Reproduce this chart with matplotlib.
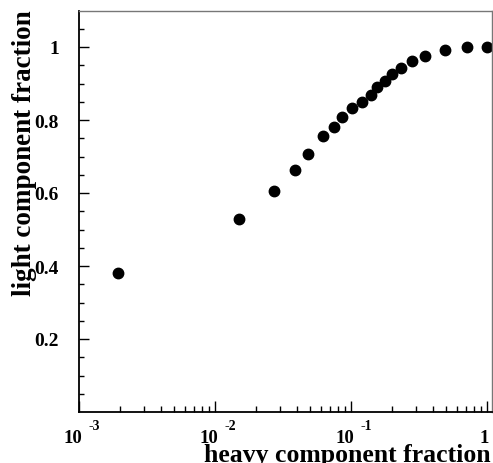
import matplotlib
matplotlib.use("Agg")
import matplotlib.pyplot as plt
from matplotlib.ticker import FixedLocator, NullFormatter, LogLocator

plt.rcParams['font.family'] = ['Liberation Serif', 'DejaVu Serif']
plt.rcParams['font.weight'] = 'bold'

# heavy component fraction (x) vs light component fraction (y)
heavy = [0.00192, 0.0149, 0.0269, 0.0387, 0.0478, 0.0622, 0.0754, 0.0855,
         0.102, 0.120, 0.139, 0.155, 0.178, 0.200, 0.233, 0.281, 0.352,
         0.493, 0.705, 1.0]
light = [0.381, 0.528, 0.605, 0.663, 0.708, 0.756, 0.781, 0.808,
         0.833, 0.850, 0.868, 0.891, 0.908, 0.926, 0.943, 0.961, 0.976,
         0.992, 1.0, 1.0]

xdecades = [1e-3, 1e-2, 1e-1, 1.0]
xexps = ['-3', '-2', '-1', '']
yticks = [0.2, 0.4, 0.6, 0.8, 1.0]
ylabels = ['0.2', '0.4', '0.6', '0.8', '1']

fig = plt.figure(figsize=(4.93, 4.64), dpi=100)
ax = fig.add_axes([79 / 493, 51 / 464, 413 / 493, 401.5 / 464])

ax.plot(heavy, light, 'o', color='black', markersize=7.5, clip_on=False)

ax.set_xscale('log')
ax.set_xlim(1e-3, 1.085)
ax.set_ylim(0.0, 1.1)

ax.xaxis.set_major_locator(FixedLocator(xdecades))
ax.xaxis.set_minor_locator(LogLocator(base=10, subs=range(2, 10)))
ax.xaxis.set_major_formatter(NullFormatter())
ax.xaxis.set_minor_formatter(NullFormatter())

ax.set_yticks(yticks)
ax.set_yticklabels(ylabels)
ax.yaxis.set_minor_locator(FixedLocator([i * 0.05 for i in range(1, 22)]))

ax.tick_params(which='both', direction='in', top=False, right=False)
ax.tick_params(axis='y', which='major', length=7, width=1, pad=14.5, labelsize=14)
ax.tick_params(axis='y', which='minor', length=3.5, width=1)
ax.tick_params(axis='x', which='major', length=8, width=1)
ax.tick_params(axis='x', which='minor', length=4, width=1)

for s in ['left', 'bottom']:
    ax.spines[s].set_linewidth(1.3)
    ax.spines[s].set_color('black')
for s in ['top', 'right']:
    ax.spines[s].set_linewidth(1)
    ax.spines[s].set_color('#777777')

# ROOT-like decade labels: "10" with a raised exponent
for xv, ex in zip(xdecades, xexps):
    if ex:
        ax.annotate('10', xy=(xv, 0), xycoords=('data', 'axes fraction'),
                    xytext=(2.5, -21.5), textcoords='offset points',
                    ha='right', va='baseline', fontsize=13.5, fontweight='bold')
        ax.annotate(ex, xy=(xv, 0), xycoords=('data', 'axes fraction'),
                    xytext=(6.5, -12.5), textcoords='offset points',
                    ha='left', va='baseline', fontsize=10, fontweight='bold')
    else:
        ax.annotate('1', xy=(xv, 0), xycoords=('data', 'axes fraction'),
                    xytext=(1, -21.5), textcoords='offset points',
                    ha='right', va='baseline', fontsize=13.5, fontweight='bold')

fig.text(491 / 493, 2 / 464, 'heavy component fraction', ha='right',
         va='baseline', fontsize=18.5, fontweight='bold')
fig.text(12 / 493, 454 / 464, 'light component fraction', ha='left',
         va='top', rotation=90, fontsize=19.5, fontweight='bold')

fig.savefig('out.png', dpi=100)
